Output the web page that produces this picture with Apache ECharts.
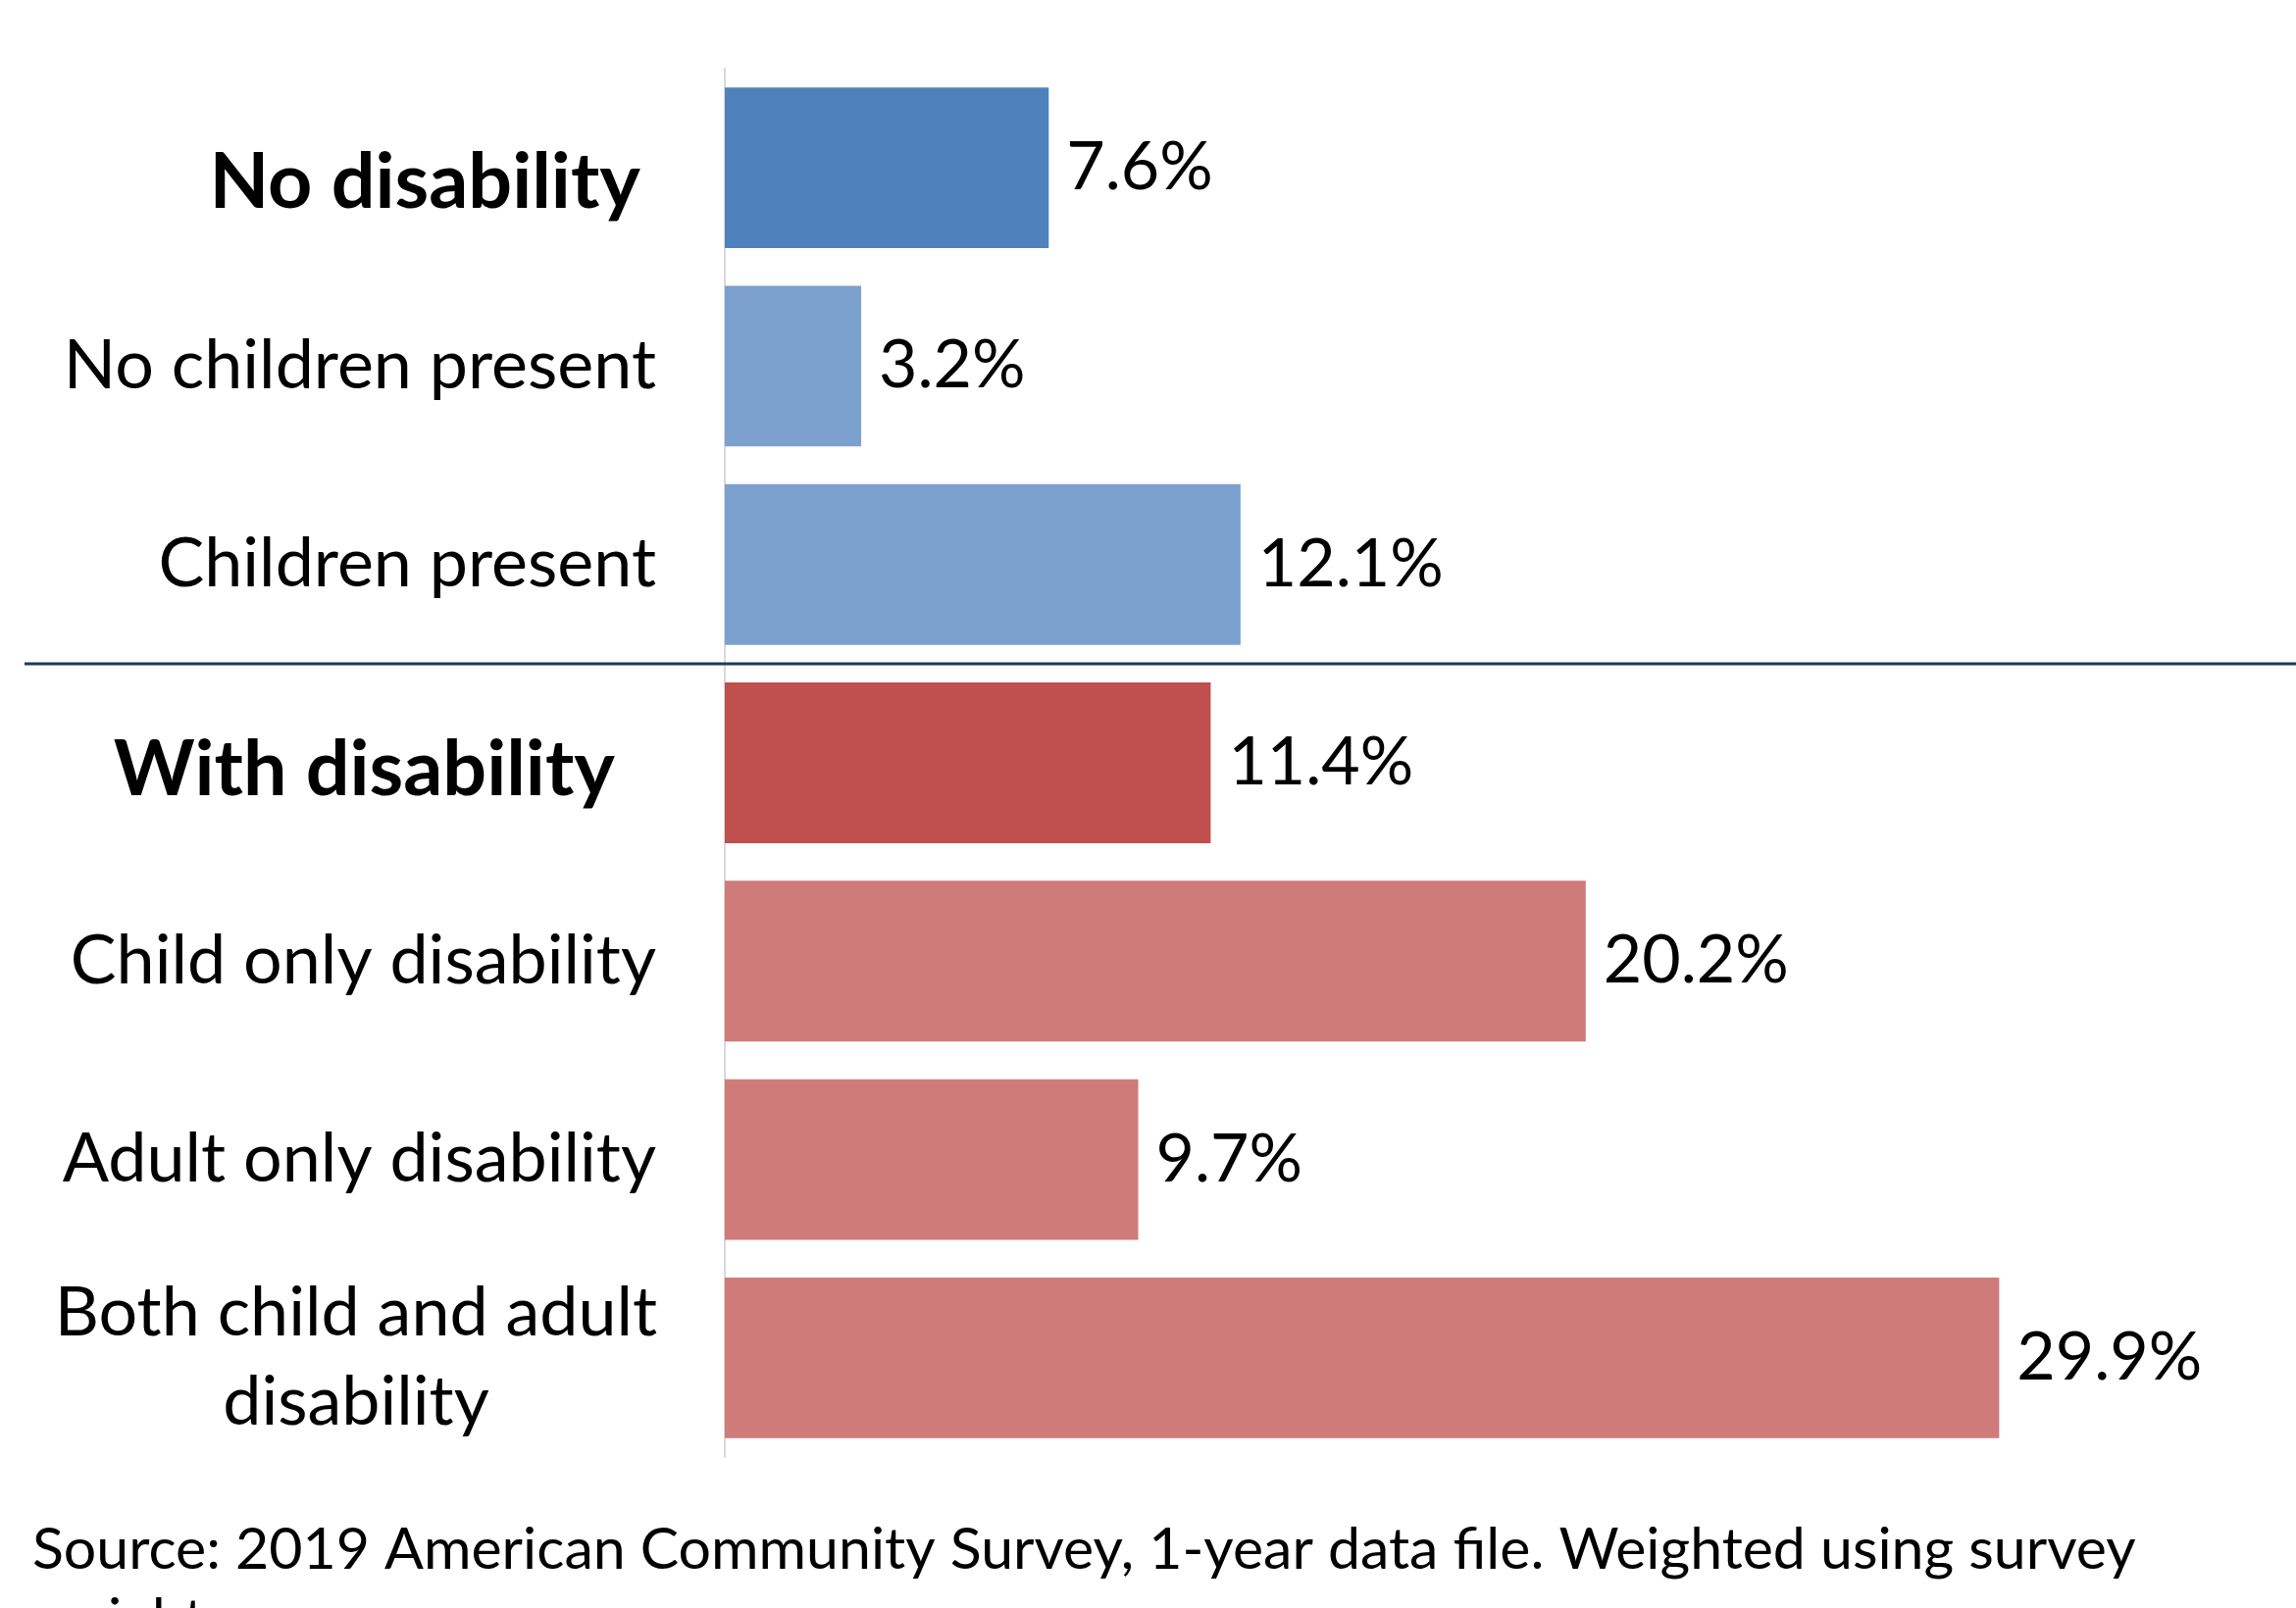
<!DOCTYPE html>
<html>
<head>
<meta charset="utf-8">
<script src="https://cdn.jsdelivr.net/npm/echarts@6/dist/echarts.min.js"></script>
<style>
  html, body { margin: 0; padding: 0; background: #fff; }
  #chart { width: 2341px; height: 1640px; }
</style>
</head>
<body>
<div id="chart"></div>
<script>
// categories, top to bottom
const categories = [
  'No disability',
  'No children present',
  'Children present',
  'With disability',
  'Child only disability',
  'Adult only disability',
  'Both child and adult\ndisability',
];
// share of households (%)
const values = [7.6, 3.2, 12.1, 11.4, 20.2, 9.7, 29.9];
// which rows are group headers
const headers = ['No disability', 'With disability'];
const colors = ['#4F81BD', '#7CA1CE', '#7CA1CE', '#C0504D', '#CF7B79', '#CF7B79', '#CF7B79'];
const sourceNote = 'Source: 2019 American Community Survey, 1-year data file. Weighted using survey\nweights.';

const font = 'Lato, "Noto Sans", sans-serif';
const chart = echarts.init(document.getElementById('chart'), null, { renderer: 'canvas' });

const option = {
  backgroundColor: '#ffffff',
  animation: false,
  textStyle: { fontFamily: font },
  title: {
    text: sourceNote,
    left: 28,
    top: 1540,
    textStyle: { fontSize: 59, fontWeight: 'normal', color: '#000', lineHeight: 72, fontFamily: font },
  },
  grid: { left: 739, right: 81, top: 70, bottom: 154, containLabel: false },
  xAxis: {
    type: 'value',
    min: 0,
    max: 35,
    show: false,
  },
  yAxis: {
    type: 'category',
    inverse: true,
    data: categories,
    axisLine: { show: true, lineStyle: { color: '#D9D9D9', width: 2 } },
    axisTick: { show: false },
    axisLabel: {
      margin: 70,
      color: '#000',
      fontSize: 70,
      fontFamily: font,
      formatter: (v) => {
        if (v === headers[0]) return '{headA|' + v + '}';
        if (v === headers[1]) return '{headB|' + v + '}';
        if (v.indexOf('\n') >= 0) return v.split('\n').map((s) => '{wrap|' + s + '}').join('\n');
        return '{norm|' + v + '}';
      },
      rich: {
        norm: { fontSize: 70, color: '#000', fontFamily: font },
        headA: { fontSize: 79, fontWeight: 'bold', color: '#000', fontFamily: font, padding: [30, 16, 0, 0] },
        headB: { fontSize: 79, fontWeight: 'bold', color: '#000', fontFamily: font, padding: [15, 42, 0, 0] },
        wrap: { fontSize: 70, color: '#000', fontFamily: font, width: 612, align: 'center', lineHeight: 91 },
      },
    },
  },
  series: [
    {
      type: 'bar',
      barCategoryGap: '19%',
      data: values.map((v, i) => ({ value: v, itemStyle: { color: colors[i] } })),
      label: {
        show: true,
        position: 'right',
        distance: 18,
        color: '#000',
        fontSize: 68,
        fontFamily: font,
        padding: [6, 0, 0, 0],
        formatter: (p) => p.value.toFixed(1) + '%',
      },
    },
  ],
};

chart.setOption(option);

// separator between the two groups, placed between rows 3 and 4
const yA = chart.convertToPixel({ yAxisIndex: 0 }, categories[2]);
const yB = chart.convertToPixel({ yAxisIndex: 0 }, categories[3]);
const ySep = Math.round((yA + yB) / 2);
chart.setOption({
  graphic: [
    {
      type: 'line',
      shape: { x1: 25, y1: ySep, x2: 2341, y2: ySep },
      style: { stroke: '#1F3A5A', lineWidth: 3 },
      z: 10,
    },
  ],
});
</script>
</body>
</html>
